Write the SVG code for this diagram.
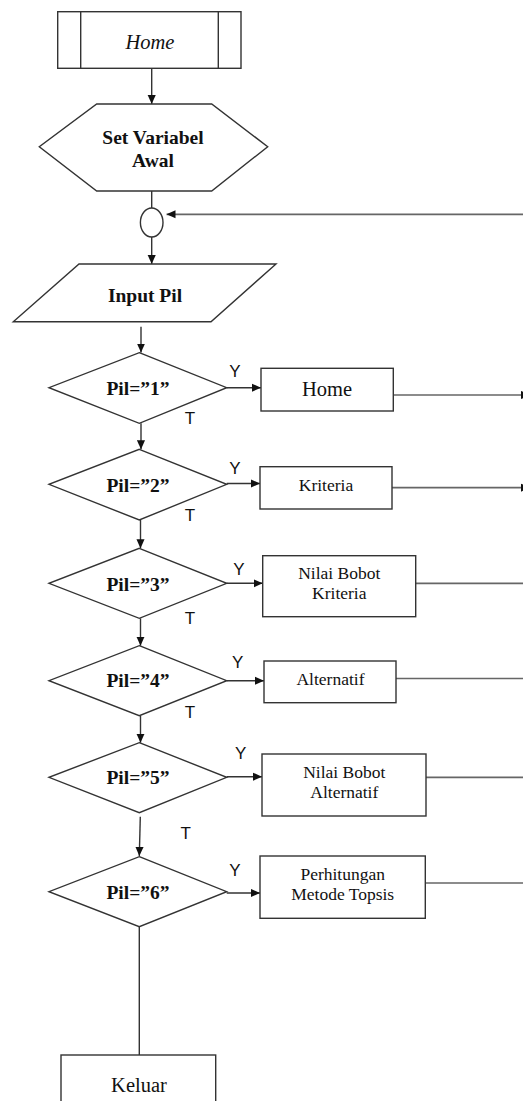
<svg xmlns="http://www.w3.org/2000/svg" width="523" height="1101" viewBox="0 0 523 1101">
<style>
.s{fill:#fff;stroke:#333;stroke-width:1.4}
.c{fill:none;stroke:#333;stroke-width:1.4}
.g{fill:none;stroke:#666;stroke-width:1.7}
.b{font-family:"Liberation Serif",serif;font-weight:bold;font-size:19.5px;fill:#111;text-anchor:middle}
.r{font-family:"Liberation Serif",serif;font-size:20.5px;fill:#111;text-anchor:middle}
.m{font-family:"Liberation Serif",serif;font-size:17.5px;fill:#111;text-anchor:middle}
.l{font-family:"Liberation Sans",Arial,sans-serif;font-size:17px;fill:#111;text-anchor:middle}
</style>
<defs>
<marker id="ah" viewBox="0 0 10 10" refX="10" refY="5" markerUnits="userSpaceOnUse" markerWidth="9" markerHeight="9" orient="auto">
<path d="M0,0.5 L10,5 L0,9.5 z" fill="#111"/>
</marker>
</defs>
<g id="connectors">
<line class="c" x1="151.7" y1="68.5" x2="151.7" y2="104" marker-end="url(#ah)"/>
<line class="c" x1="151.7" y1="191" x2="151.7" y2="208"/>
<line class="c" x1="151.7" y1="237" x2="151.7" y2="264" marker-end="url(#ah)"/>
<line class="g" x1="523" y1="214.3" x2="166.5" y2="214.3" marker-end="url(#ah)"/>
<line class="c" x1="141" y1="326.7" x2="141" y2="352.5" marker-end="url(#ah)"/>
<line class="c" x1="226.7" y1="387.7" x2="261" y2="387.7" marker-end="url(#ah)"/>
<line class="g" x1="393.3" y1="395" x2="530" y2="395" marker-end="url(#ah)"/>
<line class="c" x1="141" y1="423.3" x2="141" y2="449.3" marker-end="url(#ah)"/>
<line class="c" x1="226.7" y1="483.5" x2="260" y2="483.5" marker-end="url(#ah)"/>
<line class="g" x1="392" y1="487.7" x2="530" y2="487.7" marker-end="url(#ah)"/>
<line class="c" x1="140.5" y1="519.5" x2="140.5" y2="548.3" marker-end="url(#ah)"/>
<line class="c" x1="226.7" y1="583.3" x2="262.7" y2="583.3" marker-end="url(#ah)"/>
<line class="g" x1="415.7" y1="583.3" x2="523" y2="583.3"/>
<line class="c" x1="140.5" y1="618.3" x2="140.5" y2="645.7" marker-end="url(#ah)"/>
<line class="c" x1="226.7" y1="680.7" x2="264" y2="680.7" marker-end="url(#ah)"/>
<line class="g" x1="396" y1="678.5" x2="523" y2="678.5"/>
<line class="c" x1="140.5" y1="715.7" x2="140.5" y2="742.7" marker-end="url(#ah)"/>
<line class="c" x1="226.7" y1="776.7" x2="262" y2="776.7" marker-end="url(#ah)"/>
<line class="g" x1="426" y1="777.3" x2="523" y2="777.3"/>
<line class="c" x1="140.3" y1="816.7" x2="139.3" y2="856" marker-end="url(#ah)"/>
<line class="c" x1="226.7" y1="893" x2="260" y2="893" marker-end="url(#ah)"/>
<line class="g" x1="425.3" y1="883" x2="523" y2="883"/>
<line class="c" x1="139.3" y1="926.7" x2="139.3" y2="1055"/>
</g>
<g id="labels">
<text class="l" x="235" y="376.7">Y</text>
<text class="l" x="190" y="424.3">T</text>
<text class="l" x="235" y="474.3">Y</text>
<text class="l" x="190" y="520.7">T</text>
<text class="l" x="239" y="575">Y</text>
<text class="l" x="190" y="624">T</text>
<text class="l" x="237.7" y="668.3">Y</text>
<text class="l" x="190" y="717.7">T</text>
<text class="l" x="240.7" y="759.3">Y</text>
<text class="l" x="185.7" y="839">T</text>
<text class="l" x="235" y="876">Y</text>
</g>
<g id="home-start">
<rect class="s" x="57.7" y="11.7" width="183.3" height="56.6"/>
<line class="c" x1="80.7" y1="11.7" x2="80.7" y2="68.3"/>
<line class="c" x1="218.3" y1="11.7" x2="218.3" y2="68.3"/>
<text class="r" x="150" y="49" font-style="italic">Home</text>
</g>
<g id="set-variabel">
<polygon class="s" points="96.7,104 211.7,104 267.7,146.7 211.7,191 96.7,191 39.3,146.7"/>
<text class="b" x="153" y="144">Set Variabel</text>
<text class="b" x="153" y="166.7">Awal</text>
</g>
<g id="connector-circle">
<ellipse class="s" cx="151.7" cy="222.5" rx="11.3" ry="14.5"/>
</g>
<g id="input-pil">
<polygon class="s" points="79,264 276,264 211,321.7 13.3,321.7"/>
<text class="b" x="145" y="302.3">Input Pil</text>
</g>
<g id="pil1">
<polygon class="s" points="139.3,352.7 226.7,387.7 139.3,423.3 49,387.7"/>
<text class="b" x="138" y="395">Pil=”1”</text>
</g>
<g id="box-home">
<rect class="s" x="261" y="368.3" width="132.3" height="42.7"/>
<text class="r" x="327" y="395.7">Home</text>
</g>
<g id="pil2">
<polygon class="s" points="139.3,449.3 226.7,484.3 139.3,520 49,484.3"/>
<text class="b" x="138" y="492">Pil=”2”</text>
</g>
<g id="box-kriteria">
<rect class="s" x="260" y="466.7" width="132" height="42.3"/>
<text class="m" x="326" y="490.7">Kriteria</text>
</g>
<g id="pil3">
<polygon class="s" points="139.3,548.3 226.7,583.3 139.3,618.3 49,583.3"/>
<text class="b" x="138" y="590.7">Pil=”3”</text>
</g>
<g id="box-nilai-kriteria">
<rect class="s" x="262.7" y="555.7" width="153" height="61"/>
<text class="m" x="339.3" y="579">Nilai Bobot</text>
<text class="m" x="339.3" y="599">Kriteria</text>
</g>
<g id="pil4">
<polygon class="s" points="139.3,645.7 226.7,680.7 139.3,715.7 49,680.7"/>
<text class="b" x="138" y="687.3">Pil=”4”</text>
</g>
<g id="box-alternatif">
<rect class="s" x="264" y="661" width="132" height="41.7"/>
<text class="m" x="330.5" y="685">Alternatif</text>
</g>
<g id="pil5">
<polygon class="s" points="139.3,742.7 226.7,777.3 139.3,812.7 49,777.3"/>
<text class="b" x="138" y="784">Pil=”5”</text>
</g>
<g id="box-nilai-alternatif">
<rect class="s" x="262" y="754" width="164" height="62"/>
<text class="m" x="344.3" y="778.3">Nilai Bobot</text>
<text class="m" x="344.3" y="797.7">Alternatif</text>
</g>
<g id="pil6">
<polygon class="s" points="139.3,856.7 226.7,891.7 139.3,926.7 49,891.7"/>
<text class="b" x="138" y="899">Pil=”6”</text>
</g>
<g id="box-topsis">
<rect class="s" x="260" y="856" width="165.3" height="62.3"/>
<text class="m" x="342.7" y="880">Perhitungan</text>
<text class="m" x="342.7" y="900">Metode Topsis</text>
</g>
<g id="keluar">
<rect class="s" x="61" y="1055" width="154.7" height="60"/>
<text class="r" x="139" y="1092.3">Keluar</text>
</g>
</svg>
